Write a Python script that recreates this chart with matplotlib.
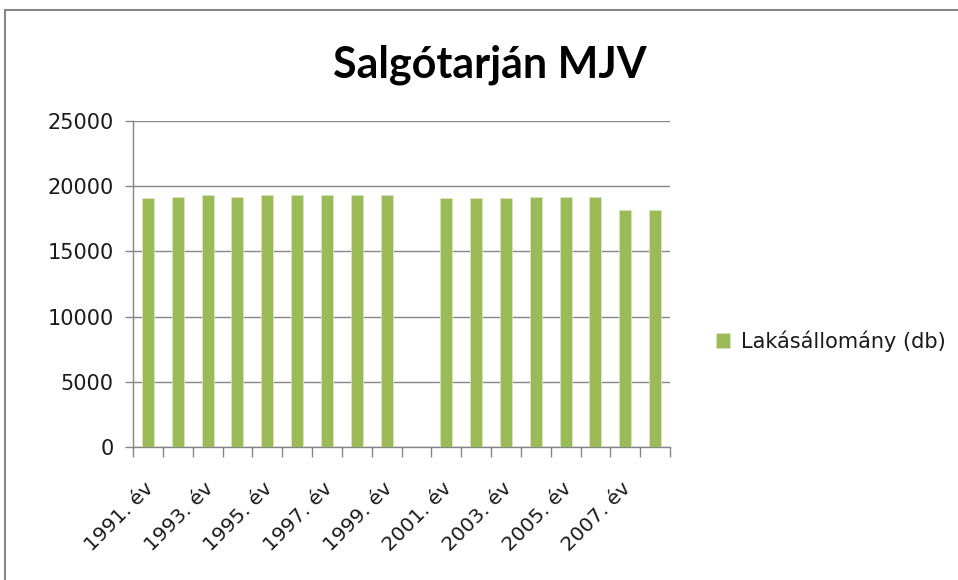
import numpy as np
import matplotlib.pyplot as plt
import matplotlib.transforms as mtransforms
from matplotlib.patches import Rectangle

# Adatok
evek = list(range(1991, 2009))
lakasallomany = [19100, 19200, 19300, 19200, 19300, 19300, 19300, 19300, 19300,
                 np.nan,
                 19100, 19100, 19100, 19200, 19200, 19200, 18200, 18200]
felirat_evek = [f"{ev}. év" for ev in evek]

plt.rcParams['font.family'] = ['DejaVu Sans']

fig = plt.figure(figsize=(9.58, 5.80), dpi=100)
ax = fig.add_axes([133 / 958, 1 - 447 / 580, 537 / 958, 326 / 580])

x = np.arange(len(evek))
ax.bar(x, lakasallomany, width=0.4, color='#9BBB59', edgecolor='#d7e4bd',
       linewidth=0.6, label='Lakásállomány (db)', zorder=3)

ax.set_xlim(-0.5, len(evek) - 0.5)
ax.set_ylim(0, 25000)
ax.set_yticks(range(0, 25001, 5000))
ax.tick_params(axis='y', labelsize=15, length=6, color='#868686', width=1, pad=8,
               labelcolor='#1a1a1a')
ax.yaxis.grid(True, color='#868686', linewidth=1, zorder=0)

# x tengely: osztásjelek a kategóriák között, feliratok minden második évnél
ax.set_xticks(np.arange(-0.5, len(evek), 1), minor=False)
ax.set_xticklabels([])
ax.tick_params(axis='x', length=7, color='#868686', width=1)
ax.set_xticks(x[::2], minor=True)
ax.set_xticklabels(felirat_evek[::2], minor=True, rotation=45, ha='right',
                   rotation_mode='anchor', fontsize=14.5, color='#1a1a1a')
ax.tick_params(axis='x', which='minor', length=0, pad=23)
eltolas = mtransforms.ScaledTranslation(-4 / 100, 0, fig.dpi_scale_trans)
for lbl in ax.get_xticklabels(minor=True):
    lbl.set_transform(lbl.get_transform() + eltolas)

for s in ['top', 'right']:
    ax.spines[s].set_visible(False)
for s in ['left', 'bottom']:
    ax.spines[s].set_color('#868686')
    ax.spines[s].set_linewidth(1)

fig.text(490 / 958, 1 - 65 / 580, 'Salgótarján MJV', ha='center', va='center',
         fontsize=31, fontweight='bold', family=['Lato', 'DejaVu Sans'])

ax.legend(loc='center left', bbox_to_anchor=(697 / 958, 1 - 341 / 580),
          bbox_transform=fig.transFigure, frameon=False, fontsize=15,
          handlelength=0.7, handleheight=0.7, handletextpad=0.5,
          labelcolor='#1a1a1a')

# keret
fig.patches.append(Rectangle((5 / 958, -0.1), 1.1, 1.1 - 10 / 580,
                             transform=fig.transFigure, fill=False,
                             edgecolor='#868686', linewidth=1.5))

fig.savefig('out.png', dpi=100)
